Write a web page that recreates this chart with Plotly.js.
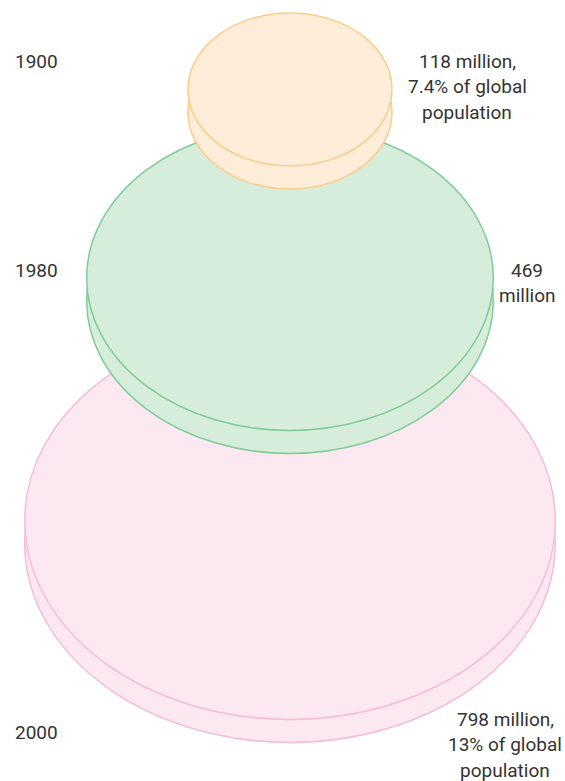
<!DOCTYPE html>
<html>
<head>
<meta charset="utf-8">
<script src="https://cdn.plot.ly/plotly-3.0.1.min.js"></script>
<style>
html,body{margin:0;padding:0;background:#fff;}
#chart{width:565px;height:781px;}
</style>
</head>
<body>
<div id="chart"></div>
<script>
// Data
const years = ["1900", "1980", "2000"];
const populationMillions = [118, 469, 798];
const valueLabels = [
  ["118 million,", "7.4% of global", "population"],
  ["469", "million"],
  ["798 million,", "13% of global", "population"]
];

// Styling / layout (not data)
const fills = ["#FEEDD8", "#D7EDDC", "#FCE8F1"];
const strokes = ["#FDCB88", "#7FCC98", "#F6BCD4"];
const centerX = 290;
const topCenterY = [89.5, 278, 520.5];
const pxPerSqrtMillion = 102 / Math.sqrt(118);
const tilt = 0.75;
const thickness = 23;
const yearLabelY = [61, 270, 732];
const valueLabelX = [467, 527, 505];
const valueLabelFirstY = [61, 270, 719];
const lineGap = 25.5;

const shapes = [];
// draw largest first so smaller discs sit on top
for (let i = years.length - 1; i >= 0; i--) {
  const r = pxPerSqrtMillion * Math.sqrt(populationMillions[i]);
  const ry = r * tilt;
  [thickness, 0].forEach(off => {
    shapes.push({
      type: "circle", xref: "x", yref: "y", layer: "above",
      x0: centerX - r, x1: centerX + r,
      y0: topCenterY[i] + off - ry, y1: topCenterY[i] + off + ry,
      fillcolor: fills[i],
      line: {color: strokes[i], width: 1.5}
    });
  });
}

const font = {family: "Roboto, 'Liberation Sans', sans-serif", size: 19, color: "#333333"};
const annotations = [];
years.forEach((y, i) => {
  annotations.push({
    x: 13, y: yearLabelY[i], xref: "x", yref: "y", text: y, showarrow: false,
    xanchor: "left", yanchor: "middle", font: font
  });
  valueLabels[i].forEach((line, j) => {
    annotations.push({
      x: valueLabelX[i], y: valueLabelFirstY[i] + j * lineGap, xref: "x", yref: "y", text: line,
      showarrow: false, xanchor: "center", yanchor: "middle", align: "center", font: font
    });
  });
});

Plotly.newPlot("chart", [{x: [0], y: [0], mode: "markers", marker: {opacity: 0}, hoverinfo: "skip", showlegend: false}], {
  width: 565, height: 781,
  margin: {l: 0, r: 0, t: 0, b: 0},
  paper_bgcolor: "#fff", plot_bgcolor: "#fff",
  xaxis: {range: [0, 565], visible: false, fixedrange: true},
  yaxis: {range: [781, 0], visible: false, fixedrange: true},
  shapes: shapes,
  annotations: annotations,
  showlegend: false
}, {displayModeBar: false, staticPlot: true});
</script>
</body>
</html>
